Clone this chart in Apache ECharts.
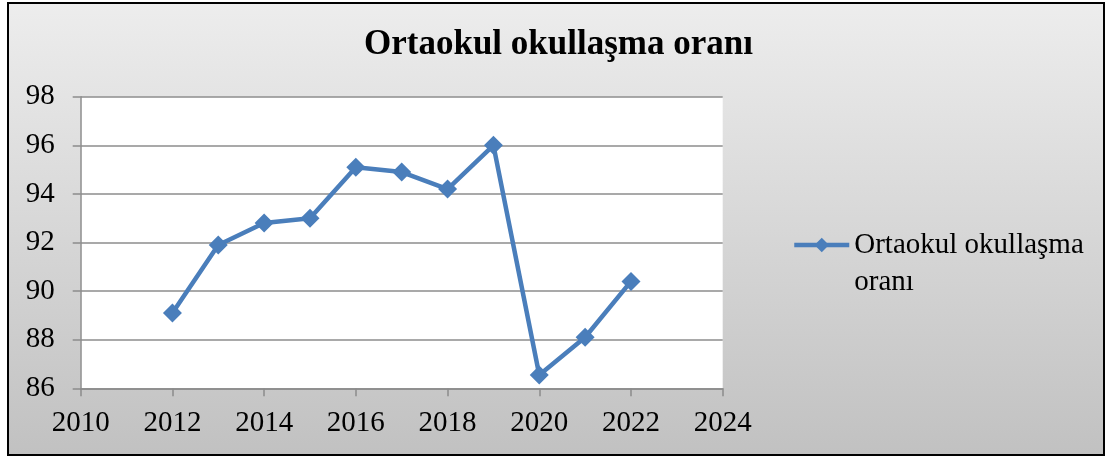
<!DOCTYPE html>
<html>
<head>
<meta charset="utf-8">
<script src="https://cdn.jsdelivr.net/npm/echarts@6/dist/echarts.min.js"></script>
<style>
html,body{margin:0;padding:0;background:#fff;}
#chart{width:1107px;height:457px;}
</style>
</head>
<body>
<div id="chart"></div>
<script>
const titleText = 'Ortaokul okullaşma oranı';
const seriesName = 'Ortaokul okullaşma oranı';
const legendLines = ['', 'Ortaokul okullaşma', 'oranı'];
const years = [2012, 2013, 2014, 2015, 2016, 2017, 2018, 2019, 2020, 2021, 2022];
const rates = [89.1, 91.9, 92.8, 93.0, 95.1, 94.9, 94.2, 96.0, 86.55, 88.1, 90.4];
const xMin = 2010, xMax = 2024, xStep = 2;
const yMin = 86, yMax = 98, yStep = 2;

const FONT = "'Liberation Serif', 'Times New Roman', serif";
const chart = echarts.init(document.getElementById('chart'), null, {renderer: 'canvas'});

const option = {
  backgroundColor: '#ffffff',
  animation: false,
  graphic: [{
    type: 'rect',
    z: -10,
    silent: true,
    shape: {x: 8, y: 3, width: 1096, height: 452},
    style: {
      fill: new echarts.graphic.LinearGradient(0, 0, 0, 1, [
        {offset: 0, color: '#ededed'},
        {offset: 1, color: '#c1c1c1'}
      ]),
      stroke: '#000',
      lineWidth: 2
    }
  }],
  title: {
    text: titleText,
    left: 364,
    top: 27,
    padding: 0,
    textStyle: {fontFamily: FONT, fontWeight: 'bold', fontSize: 35, color: '#000'}
  },
  legend: {
    orient: 'vertical',
    left: 792,
    top: 189.5,
    padding: 0,
    itemWidth: 55,
    itemHeight: 18,
    data: [{name: seriesName}],
    lineStyle: {width: 4.5},
    formatter: function () { return legendLines.join('\n'); },
    textStyle: {fontFamily: FONT, fontSize: 29, color: '#000', lineHeight: 37}
  },
  grid: {
    left: 80.7, right: 384.3, top: 96.7, bottom: 68.7,
    show: true, backgroundColor: '#ffffff', borderWidth: 0
  },
  xAxis: {
    type: 'value',
    min: xMin, max: xMax, interval: xStep,
    axisLine: {show: true, lineStyle: {color: '#8c8c8c', width: 1.5}},
    axisTick: {show: true, inside: false, length: 8, lineStyle: {color: '#8c8c8c', width: 1.5}},
    splitLine: {show: false},
    axisLabel: {fontFamily: FONT, fontSize: 29, color: '#000', margin: 21,
      formatter: function (v) { return String(v); }}
  },
  yAxis: {
    type: 'value',
    min: yMin, max: yMax, interval: yStep,
    axisLine: {show: true, lineStyle: {color: '#8c8c8c', width: 1.5}},
    axisTick: {show: true, inside: false, length: 8, lineStyle: {color: '#8c8c8c', width: 1.5}},
    splitLine: {show: true, lineStyle: {color: '#8c8c8c', width: 1.5}},
    axisLabel: {fontFamily: FONT, fontSize: 29, color: '#000', margin: 26}
  },
  series: [{
    name: seriesName,
    type: 'line',
    data: years.map((y, i) => [y, rates[i]]),
    symbol: 'diamond',
    symbolSize: 19,
    showAllSymbol: true,
    lineStyle: {color: '#4a7ebb', width: 4.5},
    itemStyle: {color: '#4a7ebb'}
  }]
};
chart.setOption(option);
</script>
</body>
</html>
